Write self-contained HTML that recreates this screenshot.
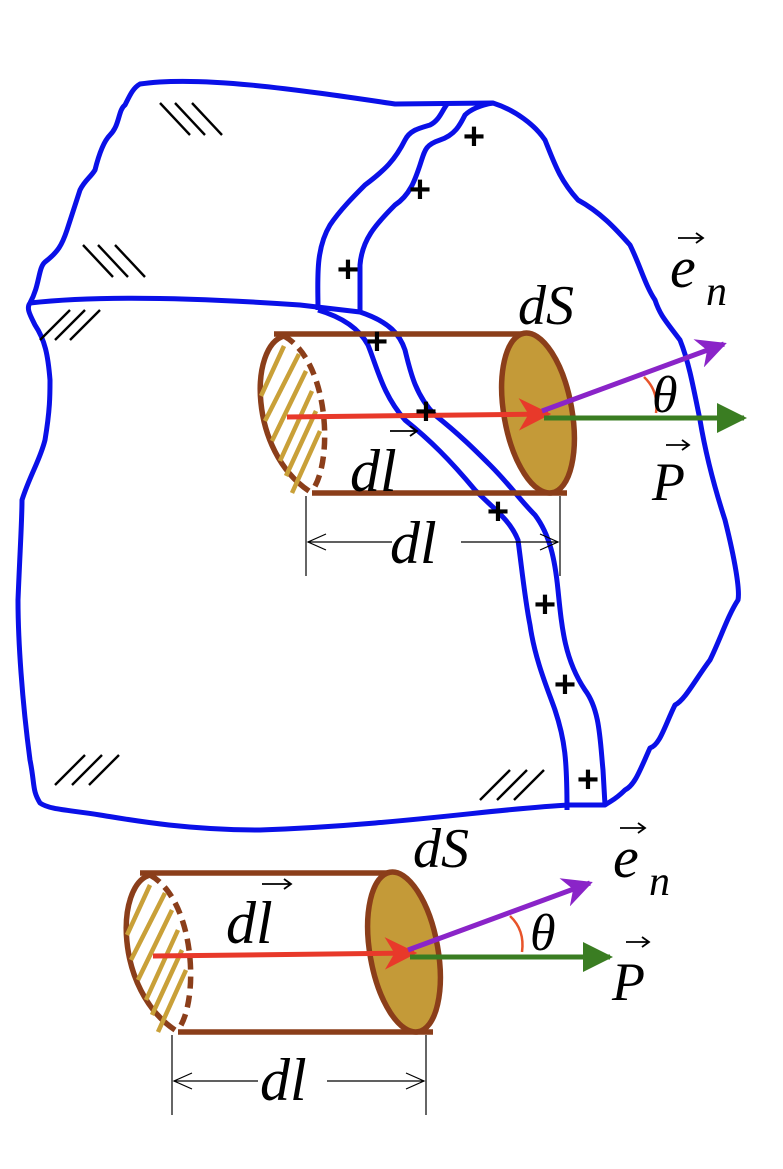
<!DOCTYPE html>
<html><head><meta charset="utf-8"><style>
html,body{margin:0;padding:0;background:#fff;}
svg{display:block;}
text{font-family:"Liberation Serif",serif;font-style:italic;fill:#000;}
.pl{font-style:normal;font-family:"Liberation Sans",sans-serif;font-weight:bold;}
</style></head><body>
<svg width="783" height="1169" viewBox="0 0 783 1169" xmlns="http://www.w3.org/2000/svg">
<defs>
<marker id="ar" viewBox="0 0 10 10" refX="9" refY="5" markerWidth="6.5" markerHeight="6.5" orient="auto"><path d="M0,0L10,5L0,10L3,5z" fill="#e8392a"/></marker>
<marker id="ag" viewBox="0 0 10 10" refX="9" refY="5" markerWidth="6" markerHeight="6" orient="auto"><path d="M0,0L10,5L0,10z" fill="#3a7d22"/></marker>
<marker id="ap" viewBox="0 0 10 10" refX="9" refY="5" markerWidth="6" markerHeight="6" orient="auto"><path d="M0,0L10,5L0,10L3,5z" fill="#8a24c8"/></marker>
<g id="cyl">
  <line x1="140" y1="873" x2="388" y2="873" stroke="#8b3e1a" stroke-width="5.5"/>
  <line x1="178" y1="1032" x2="433" y2="1032" stroke="#8b3e1a" stroke-width="5.5"/>
  <ellipse cx="404" cy="952" rx="34" ry="81" transform="rotate(-10 404 952)" fill="#c49a38" stroke="#8b3e1a" stroke-width="5.5"/>
  <path d="M150,875 C115,885 115,990 175,1030" fill="none" stroke="#8b3e1a" stroke-width="5.5"/>
  <path d="M150,875 C195,900 200,1000 178,1030" fill="none" stroke="#8b3e1a" stroke-width="5.5" stroke-dasharray="12,7"/>
  <g stroke="#c9a038" stroke-width="4.5">
    <line x1="150" y1="885" x2="127" y2="935"/>
    <line x1="165" y1="893" x2="131" y2="960"/>
    <line x1="172" y1="910" x2="138" y2="980"/>
    <line x1="178" y1="930" x2="146" y2="1000"/>
    <line x1="182" y1="950" x2="152" y2="1015"/>
    <line x1="186" y1="970" x2="158" y2="1032"/>
  </g>
  <line x1="153" y1="956" x2="414" y2="953" stroke="#e8392a" stroke-width="5" marker-end="url(#ar)"/>
  <line x1="410" y1="957" x2="610" y2="957" stroke="#3a7d22" stroke-width="5" marker-end="url(#ag)"/>
  <line x1="408" y1="950" x2="590" y2="883" stroke="#8a24c8" stroke-width="5" marker-end="url(#ap)"/>
  <path d="M510,916 Q525,930 522,952" fill="none" stroke="#e8542a" stroke-width="2.5"/>
  <line x1="172" y1="1035" x2="172" y2="1115" stroke="#000" stroke-width="1.2"/>
  <line x1="426" y1="1035" x2="426" y2="1115" stroke="#000" stroke-width="1.2"/>
  <line x1="174" y1="1081" x2="258" y2="1081" stroke="#000" stroke-width="1.2"/>
  <line x1="327" y1="1081" x2="424" y2="1081" stroke="#000" stroke-width="1.2"/>
  <path d="M192,1073L174,1081L192,1089M406,1073L424,1081L406,1089" fill="none" stroke="#000" stroke-width="1.2"/>
</g>
</defs>

<g fill="none" stroke="#0a10e8" stroke-width="5" stroke-linejoin="round">
<path d="M30,303 C40,285 38,268 45,262 C58,252 62,245 67,230 C72,215 75,205 80,190 C85,180 90,178 95,170 C100,150 105,140 110,135 C120,125 118,110 125,105 C130,95 133,88 140,84 C200,75 300,90 395,104 L493,103 C515,110 535,125 545,140 C555,165 560,180 578,200 C600,212 615,228 630,245 C640,265 645,285 655,300 C660,315 665,320 680,340 C688,360 692,380 700,420 C705,450 712,480 725,520 C735,560 740,590 738,600 C728,615 720,640 710,660 C695,680 685,700 675,705 C665,725 660,745 650,748 C640,770 635,785 625,790 C615,800 612,800 605,805 L570,805 C500,808 400,825 260,830 C180,830 120,818 100,815 C70,810 50,810 40,803 C32,790 35,785 30,760 C22,700 18,640 18,600 C20,550 22,520 22,500 C30,475 40,460 45,440 C50,410 50,395 50,380 C48,355 45,340 35,325 C30,315 26,308 30,303 Z"/>
<path d="M30,303 C100,295 200,298 300,305 L360,312"/>
<path d="M318,310 C318,280 315,250 330,225 C340,210 355,195 365,185 C385,170 395,160 405,140 C410,130 420,128 430,125 C440,120 442,110 448,103"/>
<path d="M360,312 L360,265 C362,240 375,225 395,205 C410,195 415,180 420,165 C425,150 425,145 440,140 C455,135 460,125 465,115 C470,110 480,105 493,103"/>
<path d="M318,310 C345,318 360,330 368,345 C378,370 383,395 405,420 C430,440 450,460 475,490 C495,510 510,520 518,540 C522,570 525,600 530,625 C535,660 548,690 555,710 C565,740 567,760 567,810"/>
<path d="M360,312 C390,322 400,335 405,350 C410,370 415,395 435,415 C460,435 475,450 490,465 C510,485 520,500 535,515 C550,535 555,560 558,590 C562,630 565,660 585,690 C600,710 600,740 603,770 L605,805"/>
</g>
<g stroke="#000" stroke-width="2.4">
<line x1="160" y1="103" x2="190" y2="135"/><line x1="175" y1="103" x2="205" y2="135"/><line x1="192" y1="103" x2="222" y2="135"/>
<line x1="83" y1="245" x2="113" y2="277"/><line x1="98" y1="245" x2="128" y2="277"/><line x1="115" y1="245" x2="145" y2="277"/>
<line x1="40" y1="340" x2="70" y2="310"/><line x1="55" y1="340" x2="85" y2="310"/><line x1="70" y1="340" x2="100" y2="310"/>
<line x1="55" y1="785" x2="85" y2="755"/><line x1="72" y1="785" x2="102" y2="755"/><line x1="89" y1="785" x2="119" y2="755"/>
<line x1="480" y1="800" x2="510" y2="770"/><line x1="497" y1="800" x2="527" y2="770"/><line x1="514" y1="800" x2="544" y2="770"/>
</g>

<use href="#cyl" transform="translate(134,-539)"/>
<use href="#cyl"/>

<g font-size="38" text-anchor="middle">
<text class="pl" x="474" y="149">+</text>
<text class="pl" x="420" y="202">+</text>
<text class="pl" x="348" y="282">+</text>
<text class="pl" x="377" y="354">+</text>
<text class="pl" x="426" y="424">+</text>
<text class="pl" x="498" y="524">+</text>
<text class="pl" x="545" y="617">+</text>
<text class="pl" x="565" y="697">+</text>
<text class="pl" x="588" y="792">+</text>
</g>

<text x="518" y="324" font-size="56">dS</text>
<text x="670" y="287" font-size="58">e</text><text x="706" y="305" font-size="42">n</text>
<path d="M678,238 L702,238 M696,233 L703,238 L696,243" stroke="#000" stroke-width="1.8" fill="none"/>
<text x="652" y="412" font-size="52">θ</text>
<text x="652" y="500" font-size="54">P</text>
<path d="M666,445 L688,445 M682,440 L689,445 L682,450" stroke="#000" stroke-width="1.8" fill="none"/>
<text x="350" y="491" font-size="60">dl</text>
<path d="M390,431 L416,431 M410,426 L417,431 L410,436" stroke="#000" stroke-width="1.8" fill="none"/>
<text x="390" y="563" font-size="60">dl</text>

<text x="413" y="867" font-size="56">dS</text>
<text x="613" y="877" font-size="58">e</text><text x="649" y="895" font-size="42">n</text>
<path d="M620,828 L644,828 M638,823 L645,828 L638,833" stroke="#000" stroke-width="1.8" fill="none"/>
<text x="530" y="950" font-size="52">θ</text>
<text x="612" y="1000" font-size="54">P</text>
<path d="M626,942 L648,942 M642,937 L649,942 L642,947" stroke="#000" stroke-width="1.8" fill="none"/>
<text x="226" y="943" font-size="60">dl</text>
<path d="M262,884 L290,884 M284,879 L291,884 L284,889" stroke="#000" stroke-width="1.8" fill="none"/>
<text x="260" y="1100" font-size="60">dl</text>
</svg>
</body></html>
